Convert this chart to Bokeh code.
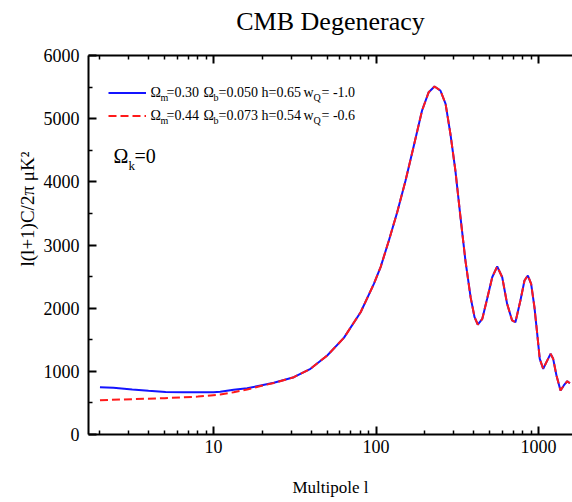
from bokeh.plotting import figure
from bokeh.models import (Range1d, FixedTicker, NumeralTickFormatter, LogAxis,
                          Label, Legend, LegendItem, CustomJSTickFormatter, Title)
from bokeh.embed import file_html
from bokeh.resources import INLINE

# ---------------- data ----------------
title_text = "CMB Degeneracy"
x_label_text = "Multipole l"
y_label_text = "l(l+1)C/2π μK²"

x_ticks = [10, 100, 1000]
x_minor = [2, 3, 4, 5, 6, 7, 8, 9, 20, 30, 40, 50, 60, 70, 80, 90,
           200, 300, 400, 500, 600, 700, 800, 900]
y_ticks = [0, 1000, 2000, 3000, 4000, 5000, 6000]
y_minor = [500, 1500, 2500, 3500, 4500, 5500]

# model A: Om=0.30 Ob=0.050 h=0.65 wQ=-1.0 (blue, solid)
ell_a = [2.0, 2.42, 3.16, 3.98, 5.07, 6.5, 8.0, 10.0, 11.0, 13.3, 16.1, 19.5,
         23.5, 31.2, 39.5, 50.1, 63.4, 80.4, 97, 106.7, 120, 135, 152, 171,
         192, 211, 229, 249, 268, 287, 308, 331, 355, 382, 404, 423, 451, 483,
         519, 557, 598, 641, 688, 721, 774, 820, 860, 901, 944, 982, 1018,
         1069, 1119, 1186, 1231, 1290, 1366, 1431, 1503, 1560]
cl_a = [749, 740, 712, 691, 672, 668, 668, 670, 676, 707, 733, 776,
        818, 907, 1040, 1250, 1530, 1936, 2385, 2650, 3071, 3519, 4021, 4575,
        5129, 5419, 5509, 5446, 5235, 4760, 4179, 3440, 2754, 2174, 1857, 1741, 1831, 2148,
        2490, 2659, 2490, 2069, 1805, 1778, 2121, 2438, 2517, 2385, 2015, 1594, 1198,
        1040, 1145, 1277, 1198, 934, 697, 776, 844, 812]

# model B: Om=0.44 Ob=0.073 h=0.54 wQ=-0.6 (red, dashed)
ell_b = [2.0, 3.16, 5.0, 8.0, 11.0, 13.3, 16.1, 19.5,
         23.5, 31.2, 39.5, 50.1, 63.4, 80.4, 97, 106.7, 120, 135, 152, 171,
         192, 211, 229, 249, 268, 287, 308, 331, 355, 382, 404, 423, 451, 483,
         519, 557, 598, 641, 688, 721, 774, 820, 860, 901, 944, 982, 1018,
         1069, 1119, 1186, 1231, 1290, 1366, 1431, 1503, 1560]
cl_b = [543, 560, 575, 600, 633, 668, 712, 768,
        815, 907, 1040, 1250, 1530, 1936, 2385, 2650, 3071, 3519, 4021, 4575,
        5129, 5419, 5509, 5446, 5235, 4760, 4179, 3440, 2754, 2174, 1857, 1741, 1831, 2148,
        2490, 2659, 2490, 2069, 1805, 1778, 2121, 2438, 2517, 2385, 2015, 1594, 1198,
        1040, 1145, 1277, 1198, 934, 697, 776, 844, 812]

legend_rows = [
    ["Ω", "m", "=0.30", "Ω", "b", "=0.050", "h=0.65", "w", "Q", "= -1.0"],
    ["Ω", "m", "=0.44", "Ω", "b", "=0.073", "h=0.54", "w", "Q", "= -0.6"],
]
curv_parts = ["Ω", "k", "=0"]

FONT = "Liberation Serif"

# ---------------- figure ----------------
FL, FB = 88, 434  # frame left / bottom in canvas pixels

p = figure(x_axis_type="log", x_range=Range1d(1.70, 1619), y_range=Range1d(0, 6000),
           frame_width=484, frame_height=379,
           min_border_left=88, min_border_right=0, min_border_top=55, min_border_bottom=66,
           output_backend="svg", toolbar_location=None)
p.xgrid.visible = False
p.ygrid.visible = False
p.outline_line_color = None
p.background_fill_color = "white"
p.border_fill_color = "white"

p.title.text = title_text
p.title.align = "center"
p.title.text_font = FONT
p.title.text_font_size = "26px"
p.title.text_font_style = "normal"
p.title.text_color = "black"
p.title.standoff = 4


def style_axis(ax):
    ax.axis_line_width = 2
    ax.axis_line_color = "black"
    ax.major_tick_in = 8
    ax.major_tick_out = 0
    ax.minor_tick_in = 4
    ax.minor_tick_out = 0
    ax.major_tick_line_width = 2
    ax.minor_tick_line_width = 1.5
    ax.major_label_text_font = FONT
    ax.major_label_text_font_size = "18px"
    ax.major_label_text_color = "black"
    ax.axis_label_text_font = FONT
    ax.axis_label_text_font_style = "normal"
    ax.axis_label_text_color = "black"


xa = p.xaxis[0]
xa.ticker = FixedTicker(ticks=x_ticks, minor_ticks=x_minor)
xa.formatter = NumeralTickFormatter(format="0")
style_axis(xa)
xa.major_label_standoff = 5
xa.axis_label = x_label_text
xa.axis_label_text_font_size = "17px"
xa.axis_label_standoff = 22

ya = p.yaxis[0]
ya.ticker = FixedTicker(ticks=y_ticks, minor_ticks=y_minor)
style_axis(ya)
ya.major_label_standoff = 9

# y-axis title as a side title, so it can sit above the frame centre as in the reference
ytitle = Title(text=y_label_text, align="left", offset=168, standoff=6,
               text_font=FONT, text_font_size="19px", text_font_style="normal",
               text_color="black")
p.add_layout(ytitle, "left")

top = LogAxis(ticker=FixedTicker(ticks=x_ticks, minor_ticks=x_minor),
              formatter=CustomJSTickFormatter(code="return ''"))
style_axis(top)
top.major_label_standoff = 0
top.major_label_text_font_size = "2px"
p.add_layout(top, "above")

# thin spacer between the top axis and the title, lifting the title as in the reference
spacer = Title(text=" ", text_font_size="1px", standoff=15)
p.add_layout(spacer, "above")

r_a = p.line(ell_a, cl_a, line_color="#1414ff", line_width=2)
r_b = p.line(ell_b, cl_b, line_color="#ff1a1a", line_width=2, line_dash="8 4")

legend = Legend(items=[LegendItem(label=" ", renderers=[r_a]),
                       LegendItem(label=" ", renderers=[r_b])],
                location=(20, 310), glyph_width=38, glyph_height=17, spacing=6,
                padding=0, margin=0, border_line_color=None, background_fill_alpha=0,
                label_standoff=0, label_height=17, label_text_font_size="10px")
p.add_layout(legend)


def lab(text, X, Y, size):
    p.add_layout(Label(x=X - FL, y=FB - Y, x_units="screen", y_units="screen",
                       text=text, text_font=FONT, text_font_size=f"{size}px",
                       text_align="left", text_baseline="middle", text_color="black"))


# legend texts (main pieces and subscripts)
xs = [150, 160, 166, 203, 213, 218, 261, 303, 313, 321]
subs = [False, True, False, False, True, False, False, False, True, False]
for row, Y in zip(legend_rows, [92, 115]):
    for t, X, s in zip(row, xs, subs):
        if s:
            lab(t, X, Y + 5, 10)
        else:
            lab(t, X, Y, 14)

lab(curv_parts[0], 113, 155, 20)
lab(curv_parts[1], 128, 165, 13)
lab(curv_parts[2], 134, 155, 20)

open("out.html", "w").write(file_html(p, INLINE))
